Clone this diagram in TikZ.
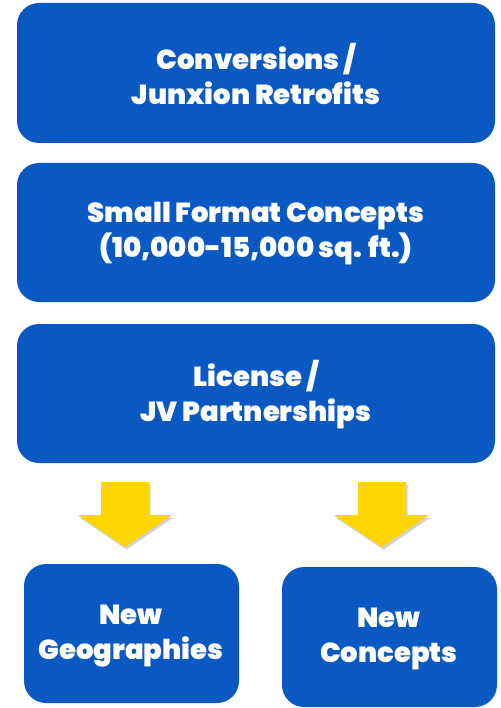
\documentclass[tikz,border=0pt]{standalone}
\usepackage{fontspec}
\setmainfont{Poppins}[BoldFont={* Black}]
\usetikzlibrary{shadows}
\definecolor{boxblue}{HTML}{0A58C2}
\definecolor{arrowyellow}{HTML}{FFD600}
\tikzset{
  bluebox/.style={fill=boxblue, rounded corners=22pt, inner sep=0pt},
  boxtext/.style={text=white, font=\bfseries\fontsize{27.5}{35}\selectfont, align=center},
  downarrow/.style={fill=arrowyellow, drop shadow={shadow xshift=1.5pt, shadow yshift=-2.5pt, opacity=0.3, fill=black!60}}
}
\begin{document}
\begin{tikzpicture}[x=1pt,y=-1pt]
\useasboundingbox (0,0) rectangle (500,708);
% boxes
\path[bluebox] (17,3) rectangle (495,143);
\path[bluebox] (17,163) rectangle (495,302);
\path[bluebox] (17,324) rectangle (495,463);
\path[bluebox] (24,564) rectangle (239,703);
\path[bluebox] (282,567) rectangle (497,707);
% texts
\node[boxtext] (t1) at (256,74) {Conversions /\\Junxion Retrofits};
\node[boxtext] (t2) at (256,234) {Small Format Concepts\\(10,000-15,000 sq. ft.)};
\node[boxtext] (t3) at (256,395) {License /\\JV Partnerships};
\node[boxtext] (t4) at (131,636) {New\\Geographies};
\node[boxtext] (t5) at (389,639) {New\\Concepts};
% arrows
\path[downarrow] (101,482) -- (149,482) -- (149,515) -- (172,515) -- (125,547) -- (78,515) -- (101,515) -- cycle;
\path[downarrow] (358,482) -- (406,482) -- (406,515) -- (429,515) -- (382,547) -- (334,515) -- (358,515) -- cycle;
\end{tikzpicture}
\end{document}
